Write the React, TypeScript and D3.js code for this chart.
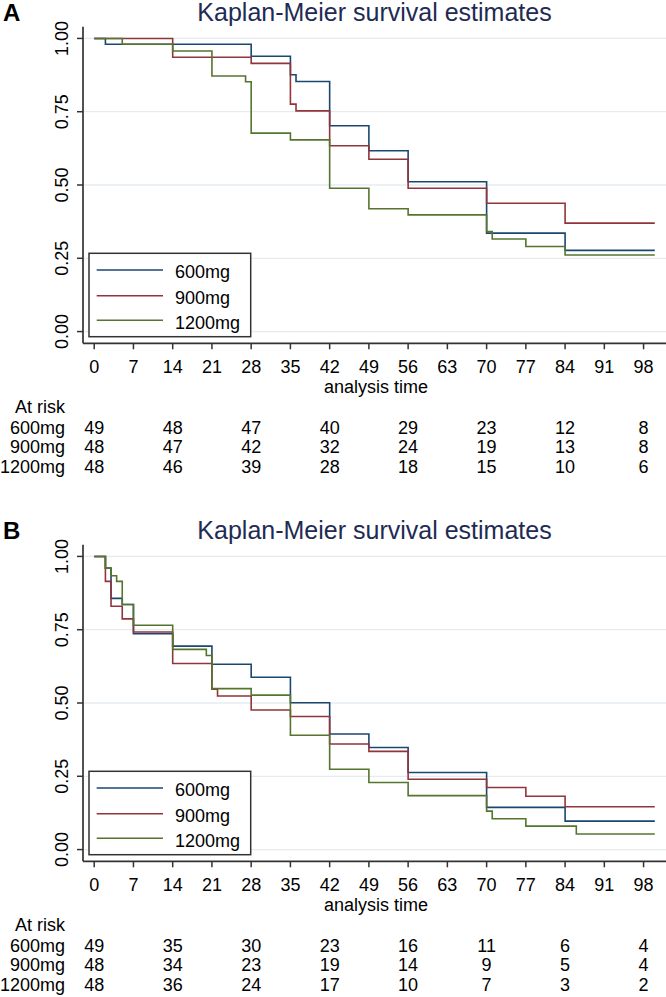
import React from "react";
import * as d3 from "d3";

const seriesNames = ["600mg", "900mg", "1200mg"];
const seriesColors = ["#1a476f", "#90353b", "#55752f"];

const xTicks = [0, 7, 14, 21, 28, 35, 42, 49, 56, 63, 70, 77, 84, 91, 98];
const yTicks = [0, 0.25, 0.5, 0.75, 1];
const riskTimes = [0, 14, 28, 42, 56, 70, 84, 98];

// Panel A
const aBlueT = [0, 2, 28, 35, 36, 42, 49, 56, 70, 84, 100];
const aBlueS = [1, 0.98, 0.939, 0.876, 0.853, 0.702, 0.617, 0.511, 0.336, 0.277, 0.277];
const aRedT = [0, 14, 28, 35, 36, 42, 49, 56, 70, 84, 100];
const aRedS = [1, 0.936, 0.915, 0.776, 0.753, 0.634, 0.588, 0.489, 0.438, 0.37, 0.37];
const aGreenT = [0, 5, 14, 21, 27, 28, 35, 42, 49, 56, 70, 71, 77, 84, 100];
const aGreenS = [1, 0.98, 0.957, 0.872, 0.852, 0.677, 0.654, 0.489, 0.419, 0.398, 0.341, 0.316, 0.29, 0.261, 0.261];
const aRisk600 = [49, 48, 47, 40, 29, 23, 12, 8];
const aRisk900 = [48, 47, 42, 32, 24, 19, 13, 8];
const aRisk1200 = [48, 46, 39, 28, 18, 15, 10, 6];

// Panel B
const bBlueT = [0, 2, 3, 5, 7, 14, 21, 28, 35, 42, 49, 56, 70, 84, 100];
const bBlueS = [1, 0.96, 0.857, 0.836, 0.736, 0.694, 0.632, 0.588, 0.501, 0.394, 0.348, 0.263, 0.144, 0.097, 0.097];
const bRedT = [0, 2, 3, 5, 7, 14, 21, 22, 28, 35, 42, 49, 56, 70, 77, 84, 100];
const bRedS = [1, 0.915, 0.83, 0.787, 0.742, 0.635, 0.547, 0.524, 0.476, 0.454, 0.36, 0.335, 0.24, 0.212, 0.182, 0.146, 0.146];
const bGreenT = [0, 2, 3, 4, 5, 7, 14, 20, 21, 28, 35, 42, 49, 56, 70, 71, 77, 86, 100];
const bGreenS = [1, 0.96, 0.934, 0.915, 0.836, 0.765, 0.683, 0.662, 0.549, 0.527, 0.39, 0.274, 0.229, 0.184, 0.131, 0.105, 0.08, 0.053, 0.053];
const bRisk600 = [49, 35, 30, 23, 16, 11, 6, 4];
const bRisk900 = [48, 34, 23, 19, 14, 9, 5, 4];
const bRisk1200 = [48, 36, 24, 17, 10, 7, 3, 2];

const FONT = "'Liberation Sans', Arial, Helvetica, sans-serif";
const AXIS = "#333333";

type PanelProps = {
  letter: string;
  dy: number;
  curves: { t: number[]; s: number[] }[];
  risk: number[][];
};

function Panel({ letter, dy, curves, risk }: PanelProps) {
  const left = 83;
  const right = 666;
  const top = 26.7;
  const bottom = 343.3;
  const x = d3.scaleLinear().domain([-2, 102]).range([left, right]);
  const y = d3.scaleLinear().domain([-0.04, 1.04]).range([bottom, top]);
  const line = d3
    .line<[number, number]>()
    .x((d) => x(d[0]))
    .y((d) => y(d[1]))
    .curve(d3.curveStepAfter);

  const legendRows = [270, 295.7, 320.3];

  return (
    <g transform={`translate(0, ${dy})`} fontFamily={FONT}>
      <text x={3} y={20.5} fontSize={24} fontWeight="bold" fill="#000">
        {letter}
      </text>
      <text x={(left + right) / 2} y={20.5} fontSize={25} textAnchor="middle" fill="#1e2b52">
        Kaplan-Meier survival estimates
      </text>
      {yTicks.map((v) => (
        <line key={"g" + v} x1={left} x2={right} y1={y(v)} y2={y(v)} stroke="#e5ecf0" strokeWidth={1.3} />
      ))}
      {curves.map((c, i) => (
        <path
          key={"c" + i}
          d={line(c.t.map((t, j) => [t, c.s[j]] as [number, number])) || ""}
          fill="none"
          stroke={seriesColors[i]}
          strokeWidth={1.6}
        />
      ))}
      <line x1={left} x2={left} y1={top} y2={bottom} stroke={AXIS} strokeWidth={1.7} />
      <line x1={left} x2={right} y1={bottom} y2={bottom} stroke={AXIS} strokeWidth={1.7} />
      {yTicks.map((v) => (
        <g key={"yt" + v}>
          <line x1={left - 6} x2={left} y1={y(v)} y2={y(v)} stroke={AXIS} strokeWidth={1.5} />
          <text
            transform={`translate(68.3, ${y(v)}) rotate(-90)`}
            textAnchor="middle"
            fontSize={18}
            fill="#000"
          >
            {v.toFixed(2)}
          </text>
        </g>
      ))}
      {xTicks.map((t) => (
        <g key={"xt" + t}>
          <line x1={x(t)} x2={x(t)} y1={bottom} y2={bottom + 6} stroke={AXIS} strokeWidth={1.5} />
          <text x={x(t)} y={372.7} textAnchor="middle" fontSize={18} fill="#000">
            {t}
          </text>
        </g>
      ))}
      <text x={376} y={393} textAnchor="middle" fontSize={18} fill="#000">
        analysis time
      </text>
      <text x={65} y={412.7} textAnchor="end" fontSize={18} fill="#000">
        At risk
      </text>
      {risk.map((row, i) => (
        <g key={"r" + i}>
          <text x={65} y={434 + i * 19.35} textAnchor="end" fontSize={18} fill="#000">
            {seriesNames[i]}
          </text>
          {row.map((n, j) => (
            <text key={j} x={x(riskTimes[j])} y={434 + i * 19.35} textAnchor="middle" fontSize={18} fill="#000">
              {n}
            </text>
          ))}
        </g>
      ))}
      <rect x={89} y={253.3} width={161.7} height={83.4} fill="#fff" stroke={AXIS} strokeWidth={1.5} />
      {seriesNames.map((name, i) => (
        <g key={"l" + i}>
          <line x1={96.7} x2={163} y1={legendRows[i]} y2={legendRows[i]} stroke={seriesColors[i]} strokeWidth={1.6} />
          <text x={175} y={legendRows[i] + 8.3} fontSize={18} fill="#000">
            {name}
          </text>
        </g>
      ))}
    </g>
  );
}

export default function App() {
  return (
    <svg
      width={666}
      height={997}
      style={{ position: "absolute", left: 0, top: 0, background: "#fff" }}
    >
      <rect width={666} height={997} fill="#fff" />
      <Panel
        letter="A"
        dy={0}
        curves={[
          { t: aBlueT, s: aBlueS },
          { t: aRedT, s: aRedS },
          { t: aGreenT, s: aGreenS },
        ]}
        risk={[aRisk600, aRisk900, aRisk1200]}
      />
      <Panel
        letter="B"
        dy={518}
        curves={[
          { t: bBlueT, s: bBlueS },
          { t: bRedT, s: bRedS },
          { t: bGreenT, s: bGreenS },
        ]}
        risk={[bRisk600, bRisk900, bRisk1200]}
      />
    </svg>
  );
}
